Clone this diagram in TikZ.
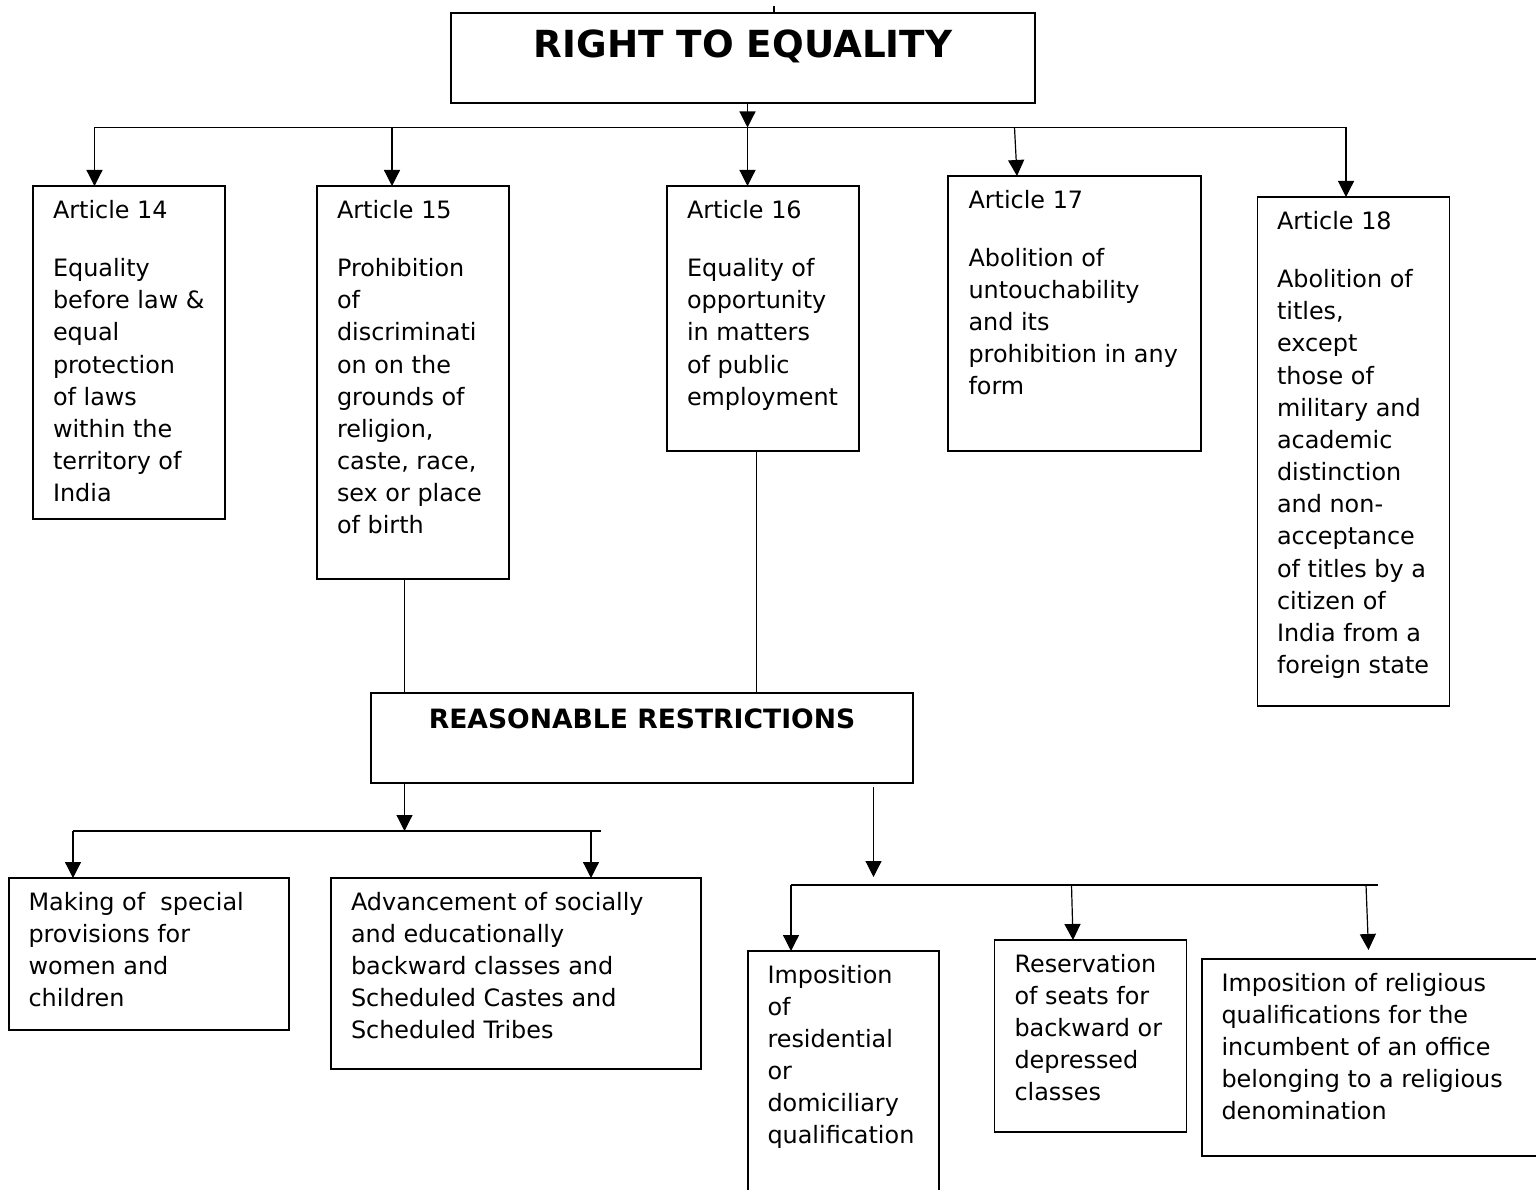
\documentclass[tikz,border=0pt]{standalone}
\usepackage{fontspec}
\setmainfont{DejaVu Sans}
\usetikzlibrary{arrows.meta,calc}
\begin{document}
\begin{tikzpicture}[x=1pt,y=-1pt,
  box/.style={draw, line width=1.2pt, inner sep=0pt, outer sep=0pt, anchor=north west},
  txt/.style={anchor=north west, inner sep=0pt, outer sep=0pt, align=left, font=\fontsize{23.9}{32.15}\selectfont},
  arr/.style={line width=1.2pt, -{Triangle[length=16pt,width=16pt]}},
  ln/.style={line width=1.2pt}]
\fill[white] (0,0) rectangle (1536,1190);
\useasboundingbox (0,0) rectangle (1536,1190);

% boxes
\node[box, minimum width=584pt, minimum height=90pt] (title) at (451,13) {};
\node[box, minimum width=192pt, minimum height=333pt] (a14) at (33,186) {};
\node[box, minimum width=192pt, minimum height=393pt] (a15) at (317,186) {};
\node[box, minimum width=192pt, minimum height=265pt] (a16) at (667,186) {};
\node[box, minimum width=253pt, minimum height=275pt] (a17) at (948,176) {};
\node[box, minimum width=192pt, minimum height=509pt] (a18) at (1257.5,197) {};
\node[box, minimum width=542pt, minimum height=90pt] (rr) at (371,693) {};
\node[box, minimum width=280pt, minimum height=152pt] (w) at (9,878) {};
\node[box, minimum width=370pt, minimum height=191pt] (adv) at (331,878) {};
\node[box, minimum width=191pt, minimum height=270pt] (res) at (748,951) {};
\node[box, minimum width=192pt, minimum height=192pt] (resv) at (994.5,940) {};
\node[box, minimum width=345pt, minimum height=197pt] (rel) at (1202,959) {};

% texts
\node[anchor=base, inner sep=0pt, font=\bfseries\fontsize{37.3}{44}\selectfont] (tt) at (743,58) {RIGHT TO EQUALITY};
\node[anchor=base, inner sep=0pt, font=\bfseries\fontsize{26.6}{32}\selectfont] (trr) at (642,728) {REASONABLE RESTRICTIONS};

\node[txt] (t14) at (53,194) {\rule{0pt}{24pt}Article 14\\[26.5pt]Equality\\before law \&\\equal\\protection\\of laws\\within the\\territory of\\India};
\node[txt] (t15) at (337,194) {\rule{0pt}{24pt}Article 15\\[26.5pt]Prohibition\\of\\discriminati\\on on the\\grounds of\\religion,\\caste, race,\\sex or place\\of birth};
\node[txt] (t16) at (687,194) {\rule{0pt}{24pt}Article 16\\[26.5pt]Equality of\\opportunity\\in matters\\of public\\employment};
\node[txt] (t17) at (968.5,184) {\rule{0pt}{24pt}Article 17\\[26pt]Abolition of\\untouchability\\and its\\prohibition in any\\form};
\node[txt] (t18) at (1277,205) {\rule{0pt}{24pt}Article 18\\[26.5pt]Abolition of\\titles,\\except\\those of\\military and\\academic\\distinction\\and non-\\acceptance\\of titles by a\\citizen of\\India from a\\foreign state};
\node[txt] (tw) at (28.5,886) {\rule{0pt}{24pt}Making of\ \ special\\provisions for\\women and\\children};
\node[txt] (tadv) at (351,886) {\rule{0pt}{24pt}Advancement of socially\\and educationally\\backward classes and\\Scheduled Castes and\\Scheduled Tribes};
\node[txt] (tres) at (767.5,959) {\rule{0pt}{24pt}Imposition\\of\\residential\\or\\domiciliary\\qualification};
\node[txt] (tresv) at (1014.5,948) {\rule{0pt}{24pt}Reservation\\of seats for\\backward or\\depressed\\classes};
\node[txt] (trel) at (1221.5,967) {\rule{0pt}{24pt}Imposition of religious\\qualifications for the\\incumbent of an office\\belonging to a religious\\denomination};

% top tick
\coordinate (tk) at (774,6);
\draw[ln] (tk) -- (tk |- title.north);

% top bus
\coordinate (bl) at (94.5,127.5);
\coordinate (br) at (1346,127.5);
\coordinate (j15) at (392,127.5);
\coordinate (j16) at (747.5,127.5);
\coordinate (j17) at (1014.5,127.5);
\draw[arr] (title.south -| j16) -- (j16);
\draw[ln] (bl) -- (br);
\draw[arr] (bl) -- (bl |- a14.north);
\draw[arr] (j15) -- (j15 |- a15.north);
\draw[arr] (j16) -- (j16 |- a16.north);
\draw[arr] (j17) -- ($(j17 |- a17.north)+(2.5,0)$);
\draw[arr] (br) -- (br |- a18.north);

% to reasonable restrictions
\coordinate (x15) at (404.5,0);
\coordinate (x16) at (756.5,0);
\draw[ln] (a15.south -| x15) -- (rr.north -| x15);
\draw[ln] (a16.south -| x16) -- (rr.north -| x16);

% lower-left bus
\coordinate (lb1) at (404.5,831);
\coordinate (lbl) at (73,831);
\coordinate (lbr) at (601,831);
\coordinate (lb2) at (591,831);
\draw[arr] (rr.south -| lb1) -- (lb1);
\draw[ln] (lbl) -- (lbr);
\draw[arr] (lbl) -- (lbl |- w.north);
\draw[arr] (lb2) -- (lb2 |- adv.north);

% lower-right bus
\coordinate (rx) at (873.5,877);
\coordinate (rbl) at (791,885);
\coordinate (rbr) at (1378,885);
\coordinate (rb2) at (1071.5,885);
\coordinate (rb3) at (1366,885);
\coordinate (re3) at (1368.5,950);
\draw[arr] ($(rr.south -| rx)+(0,4)$) -- (rx);
\draw[ln] (rbl) -- (rbr);
\draw[arr] (rbl) -- (rbl |- res.north);
\draw[arr] (rb2) -- ($(rb2 |- resv.north)+(1.5,0)$);
\draw[arr] (rb3) -- (re3);
\end{tikzpicture}
\end{document}
